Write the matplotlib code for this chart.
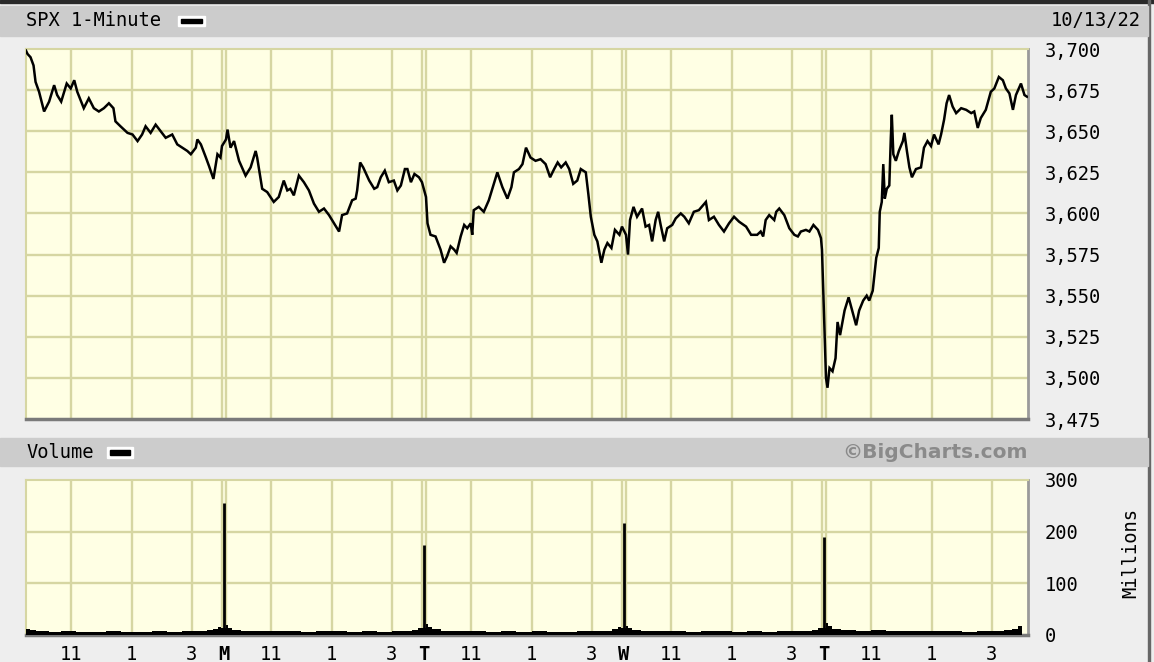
import numpy as np
import matplotlib
matplotlib.use('Agg')
import matplotlib.pyplot as plt
from matplotlib.patches import Rectangle

# ---------------- data ----------------
SESSION = 390   # minutes per trading session
GAP = 8         # visual gap between sessions (minutes)

day_letters = ['', 'M', 'T', 'W', 'T']
hour_labels = ['11', '1', '3']
hour_minutes = [90, 210, 330]

price_ticks = [3475, 3500, 3525, 3550, 3575, 3600, 3625, 3650, 3675, 3700]
vol_ticks = [0, 100, 200, 300]

fri_min = [0, 3, 9, 15, 19, 26, 36, 46, 56, 62, 70, 81, 89, 96, 102, 115, 125, 135, 145, 155,
           165, 174, 178, 188, 202, 212, 222, 231, 238, 248, 258, 268, 278, 291, 301, 311, 321,
           328, 338, 341, 348, 358, 364, 373, 381, 387, 390]
fri_px = [3699, 3697, 3695, 3690, 3680, 3674, 3662, 3668, 3678, 3672, 3668, 3679, 3676, 3681, 3674,
          3664, 3670, 3664, 3662, 3664, 3667, 3664, 3656, 3653, 3649, 3648, 3644, 3648, 3653, 3649,
          3654, 3650, 3646, 3648, 3642, 3640, 3638, 3636, 3640, 3645, 3642, 3634, 3629, 3621, 3636,
          3634, 3641]

mon_min = [0, 3, 9, 16, 26, 39, 49, 59, 62, 72, 82, 95, 105, 115, 122, 128, 135, 145, 155, 165,
           175, 185, 195, 205, 215, 225, 231, 241, 251, 258, 261, 267, 273, 285, 295, 301, 308,
           316, 324, 334, 341, 348, 356, 361, 368, 375, 384, 390]
mon_px = [3645, 3651, 3640, 3644, 3632, 3623, 3628, 3638, 3634, 3615, 3613, 3607, 3610, 3620, 3614,
          3615, 3611, 3623, 3619, 3614, 3606, 3601, 3603, 3599, 3594, 3589, 3599, 3600, 3608, 3609,
          3614, 3631, 3628, 3620, 3615, 3616, 3622, 3626, 3619, 3620, 3614, 3617, 3627, 3627, 3619,
          3624, 3622, 3619]

tue_min = [0, 3, 9, 19, 29, 36, 42, 49, 56, 61, 69, 76, 82, 89, 92, 95, 105, 115, 125, 135,
           142, 152, 162, 170, 175, 185, 192, 199, 208, 218, 228, 238, 247, 255, 262, 269, 278,
           285, 293, 301, 308, 318, 323, 328, 335, 341, 349, 355, 361, 369, 376, 385, 390]
tue_px = [3610, 3594, 3587, 3586, 3578, 3570, 3574, 3580, 3578, 3576, 3586, 3593, 3591, 3594, 3587,
          3602, 3604, 3601, 3608, 3618, 3625, 3616, 3609, 3616, 3625, 3627, 3630, 3640, 3634, 3632,
          3633, 3630, 3622, 3627, 3631, 3628, 3631, 3627, 3618, 3620, 3627, 3625, 3612, 3598, 3587,
          3583, 3570, 3578, 3582, 3579, 3590, 3587, 3592]

wed_min = [0, 4, 8, 15, 22, 32, 39, 46, 52, 59, 64, 69, 76, 82, 92, 99, 109, 116, 125, 135,
           145, 159, 165, 175, 185, 195, 205, 215, 225, 239, 249, 261, 268, 273, 278, 285, 295,
           299, 305, 315, 325, 335, 342, 348, 358, 365, 373, 382, 388, 390]
wed_px = [3587, 3575, 3596, 3604, 3598, 3603, 3592, 3593, 3583, 3596, 3601, 3593, 3583, 3591, 3593,
          3597, 3600, 3598, 3594, 3601, 3602, 3607, 3596, 3598, 3593, 3589, 3594, 3598, 3595, 3592,
          3587, 3587, 3589, 3586, 3596, 3599, 3596, 3601, 3603, 3599, 3591, 3587, 3586, 3589, 3590,
          3589, 3593, 3590, 3585, 3578]

thu_min = [0, 3, 7, 13, 19, 23, 28, 37, 45, 52, 60, 66, 74, 81, 86, 93, 100, 105, 107, 111,
           114, 117, 121, 126, 129, 131, 134, 139, 145, 153, 156, 161, 166, 171, 179, 189, 195,
           202, 209, 215, 224, 229, 235, 240, 245, 252, 259, 269, 279, 289, 295, 302, 308, 318,
           328, 335, 344, 352, 358, 365, 372, 378, 388, 395, 400]
thu_px = [3500, 3494, 3506, 3504, 3512, 3534, 3526, 3541, 3549, 3541, 3532, 3541, 3547, 3550, 3547,
          3553, 3573, 3579, 3601, 3607, 3630, 3609, 3615, 3617, 3646, 3660, 3636, 3632, 3638, 3644,
          3649, 3638, 3628, 3622, 3627, 3628, 3640, 3644, 3641, 3648, 3642, 3648, 3657, 3667, 3672,
          3665, 3661, 3664, 3663, 3661, 3662, 3652, 3658, 3663, 3674, 3676, 3683, 3681, 3676, 3673,
          3663, 3672, 3679, 3672, 3671]

# volume (millions) readings per session
open_spikes = [0, 255, 175, 217, 190]

fri_vmin = [0, 8, 20, 45, 70, 100, 130, 160, 190, 220, 250, 280, 310, 340, 360, 372, 382, 388]
fri_vol = [11, 9, 7, 6, 7, 6, 6, 7, 6, 6, 7, 6, 7, 7, 9, 12, 16, 26]
mon_vmin = [0, 4, 12, 30, 60, 90, 120, 150, 180, 210, 240, 270, 300, 330, 355, 370, 382, 388]
mon_vol = [20, 14, 10, 8, 7, 8, 7, 6, 8, 7, 6, 7, 6, 7, 8, 10, 14, 20]
tue_vmin = [0, 4, 12, 30, 60, 90, 120, 150, 180, 210, 240, 270, 300, 330, 355, 370, 382, 388]
tue_vol = [22, 15, 11, 8, 7, 7, 6, 7, 6, 7, 6, 6, 7, 7, 8, 11, 15, 22]
wed_vmin = [0, 4, 12, 30, 60, 90, 120, 150, 180, 210, 240, 270, 300, 330, 355, 370, 382, 388]
wed_vol = [18, 13, 10, 8, 7, 7, 6, 7, 7, 6, 7, 6, 7, 7, 8, 10, 14, 19]
thu_vmin = [0, 4, 12, 30, 60, 90, 120, 150, 180, 210, 240, 270, 300, 330, 355, 370, 382, 390]
thu_vol = [24, 17, 12, 10, 8, 9, 8, 7, 8, 7, 7, 6, 7, 8, 9, 12, 18, 28]

price_days = [(fri_min, fri_px), (mon_min, mon_px), (tue_min, tue_px),
              (wed_min, wed_px), (thu_min, thu_px)]
vol_days = [(fri_vmin, fri_vol), (mon_vmin, mon_vol), (tue_vmin, tue_vol),
            (wed_vmin, wed_vol), (thu_vmin, thu_vol)]


def tpos(day, minutes):
    return day * (SESSION + GAP) + np.asarray(minutes, dtype=float)


# ---------------- figure ----------------
W, H = 1154, 662
fig = plt.figure(figsize=(W / 100, H / 100), dpi=100, facecolor='#EEEEEE')


def fx(p):
    return p / W


def fy(p):
    return 1 - p / H


def frect(x0, y0, x1, y1, **kw):
    fig.patches.append(Rectangle((fx(x0), fy(y1)), fx(x1 - x0), (y1 - y0) / H,
                                 transform=fig.transFigure, **kw))


# borders and header bars
frect(0, 0, W, 3, color='#2a2a2a', zorder=0)
frect(1148, 0, 1150, H, color='#666666', zorder=0)
frect(0, 6, 1148, 36, color='#CCCCCC', zorder=0)
frect(0, 438, 1148, 466, color='#CCCCCC', zorder=0)

BG = '#FFFFE4'
GRID = '#D6D6A2'
MONO = 'DejaVu Sans Mono'
FS = 13.5

ax = fig.add_axes([fx(26), fy(419), fx(1002), 370 / H])
vax = fig.add_axes([fx(26), fy(635), fx(1002), 155 / H])

xmax = tpos(4, 402)
for a in (ax, vax):
    a.set_facecolor(BG)
    a.set_xlim(0, xmax)
    for d in range(5):
        for m in hour_minutes:
            a.axvline(tpos(d, m), color=GRID, lw=1.7, zorder=1)
        if d > 0:
            a.axvline(tpos(d - 1, SESSION), color=GRID, lw=1.7, zorder=1)
            a.axvline(tpos(d, 0), color=GRID, lw=1.7, zorder=1)
    a.spines['top'].set_color(GRID)
    a.spines['left'].set_color(GRID)
    a.spines['top'].set_linewidth(1.5)
    a.spines['left'].set_linewidth(1.5)
    a.spines['bottom'].set_color('#7a7a7a')
    a.spines['right'].set_color('#9a9a9a')
    a.spines['bottom'].set_linewidth(2.5)
    a.spines['right'].set_linewidth(2.0)
    a.yaxis.tick_right()
    a.tick_params(axis='y', length=0, pad=12, labelsize=FS)

# price panel
ax.set_ylim(price_ticks[0], price_ticks[-1])
for v in price_ticks[1:-1]:
    ax.axhline(v, color=GRID, lw=1.7, zorder=1)
ax.set_yticks(price_ticks)
ax.set_yticklabels([f'{v:,}' for v in price_ticks], family=MONO, fontsize=FS)
ax.set_xticks([])

all_t = np.concatenate([tpos(d, m) for d, (m, p) in enumerate(price_days)])
all_p = np.concatenate([np.asarray(p, float) for m, p in price_days])
ax.plot(all_t, all_p, color='black', lw=1.8, zorder=3, solid_joinstyle='miter')

# volume panel
vax.set_ylim(vol_ticks[0], vol_ticks[-1])
for v in vol_ticks[1:-1]:
    vax.axhline(v, color=GRID, lw=1.7, zorder=1)
vax.set_yticks(vol_ticks)
vax.set_yticklabels([str(v) for v in vol_ticks], family=MONO, fontsize=FS)

for d, (m, v) in enumerate(vol_days):
    t = tpos(d, m)
    vax.fill_between(t, 0, v, step='post', color='black', lw=0, zorder=3)
    if open_spikes[d] > 0:
        spike_t = tpos(d, -GAP / 2)
        vax.vlines(spike_t, 0, open_spikes[d], color='black', lw=2.0, zorder=4)
        vax.fill_between([spike_t - 6, spike_t + 6], 0, 14, color='black', lw=0, zorder=3)

xt, xl = [], []
for d in range(5):
    if day_letters[d]:
        xt.append(tpos(d, -GAP / 2))
        xl.append(day_letters[d])
    for m, lab in zip(hour_minutes, hour_labels):
        xt.append(tpos(d, m))
        xl.append(lab)
vax.set_xticks(xt)
vax.set_xticklabels(xl, family=MONO, fontsize=FS)
vax.tick_params(axis='x', length=0, pad=7)
for lab in vax.get_xticklabels():
    if lab.get_text() in ('M', 'T', 'W'):
        lab.set_fontweight('bold')

# header texts
fig.text(fx(26), fy(21), 'SPX 1-Minute', ha='left', va='center', family=MONO, fontsize=FS)
fig.text(fx(1141), fy(21), '10/13/22', ha='right', va='center', family=MONO, fontsize=FS)
fig.text(fx(26), fy(453), 'Volume', ha='left', va='center', family=MONO, fontsize=FS)
fig.text(fx(1028), fy(453), '\u00a9BigCharts.com', ha='right', va='center',
         family='DejaVu Sans', fontweight='bold', fontsize=14.5, color='#8a8a8a')
fig.text(fx(1131), fy(553), 'Millions', ha='center', va='center', rotation=90,
         family=MONO, fontsize=FS)

# legend swatches
for (x0, y0, x1, y1) in [(178, 16, 205, 26), (107, 447, 133, 458)]:
    frect(x0, y0, x1, y1, color='white', zorder=2)
    frect(x0 + 3, y0 + 3, x1 - 3, y1 - 3, color='black', zorder=3)

fig.savefig('out.png', dpi=100, facecolor=fig.get_facecolor())
